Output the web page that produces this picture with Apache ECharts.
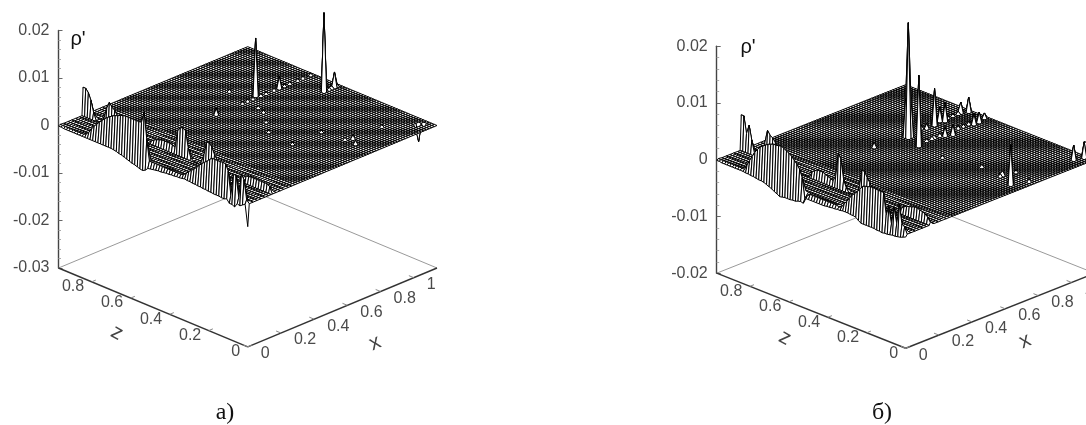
<!DOCTYPE html>
<html><head><meta charset="utf-8">
<style>html,body{margin:0;padding:0;background:#fff;overflow:hidden}#c{width:1086px;height:425px;filter:blur(0.5px)}</style>
<script src="https://cdn.jsdelivr.net/npm/echarts@6/dist/echarts.min.js"></script>
</head><body><div id="c"></div>
<script>
// All profile values are rho' in units of 1e-4, one per z-station (z falling from z max to 0).
const RHO_UNIT = 1e-4;
const xMax = 1.14, zMax = 0.97;
const xTickValues = [0, 0.2, 0.4, 0.6, 0.8, 1];
const zTickValues = [0, 0.2, 0.4, 0.6, 0.8];
const rhoTicksA = [-0.03, -0.02, -0.01, 0, 0.01, 0.02];
const rhoTicksB = [-0.02, -0.01, 0, 0.01, 0.02];
// grid rows across x (fraction of x max) near the wall; the regular flat mesh follows
const wallRows = [0, 0.008, 0.028, 0.05, 0.07, 0.09, 0.11, 0.124, 0.13];
const shelfRows = [0.15, 0.172, 0.19, 0.215, 0.232];

// ---- panel a ----
const edgeA = [-1,-1,-2,-2,-2,-2,-2,-2,-2,-2,-2,-2,-2,-2,-2,-2,-2,-2,-2,-2,-2,-3,-4,-6,-7,-9,-11,-13,-15,-16,-18,-20,-21,-18,-12,-11,-10,-9,-8,-8,-7,-6,-6,-5,-5,-4,-4,-3,-2,-3,-3,-4,-4,-5,-5,-6,-6,-7,-7,-8,-8,-8,-9,-9,-7,-14,-14,-17,-8,-10,-6,-2,-47];
const ridgeA = [1,1,1,1,1,1,1,1,1,1,4,10,19,27,34,40,46,52,57,61,65,68,70,73,75,76,76,76,76,76,76,77,100,46,2,2,2,2,2,2,2,2,2,2,2,2,2,4,8,15,19,25,30,37,43,48,53,59,63,63,63,63,64,63,50,2,48,48,4,55,46,6,0];
const backA = [59,59,52,38,15,0,0,0,13,36,50,42,38,29,17,8,0,0,0,0,0,0,0,0,0,0,6,10,13,15,17,17,17,17,16,13,50,59,61,57,23,4,0,0,0,6,23,52,52,46,32,23,10,4,0,0,0,0,0,0,6,10,15,16,17,17,17,17,17,17,17,13,0];
const spikeXA = [0.806,1.045,1.104,0.93,0.559,0.786,0.76,1.094,1.07,1.11,0.71,0.74,0.77,0.83,0.86,0.90,0.97,1.00,1.04,1.08,1.12,1.05,1.08,1.10,1.12,0.736,0.72,0.758,0.746,0.76,0.593,0.643,0.97,0.57];
const spikeZA = [0.640,0.498,0.497,0.632,0.63,0.129,0.091,0.058,0.058,0.045,0.63,0.63,0.63,0.63,0.63,0.63,0.63,0.63,0.63,0.63,0.63,0.5,0.5,0.5,0.5,0.564,0.527,0.742,0.25,0.148,0.392,0.46,0.132,0.252];
const spikeVA = [122,166,32,25,13,8,8,-36,-10,-12,4,5,4,5,4,5,4,5,4,5,4,5,4,5,4,5,5,5,4,5,4,4,4,4];

// ---- panel b ----
const edgeB = [-1,-1,-2,-2,-2,-2,-2,-2,-2,-2,-2,-3,-3,-4,-4,-5,-6,-6,-7,-9,-11,-13,-16,-18,-21,-20,-19,-19,-19,-18,-18,-16,-15,-16,-6,-6,-6,-6,-6,-6,-6,-6,-5,-5,-4,-4,-3,-3,-2,-2,-2,-3,-3,-4,-8,-11,-11,-11,-11,-11,-11,-12,-12,-13,-12,-12,-11,-10,-10,-9,-8,-6,-4];
const ridgeB = [1,1,1,1,1,1,1,1,1,1,0,10,20,29,38,45,51,54,58,61,63,65,65,66,67,65,62,60,56,51,46,39,26,-9,-2,2,2,2,2,2,2,2,2,2,2,2,0,2,9,16,23,30,35,40,46,53,55,56,58,58,58,57,57,57,19,36,7,39,11,47,14,11,0];
const backB = [62,62,33,49,25,4,0,0,0,30,53,46,43,37,29,0,0,0,0,0,0,0,0,0,0,0,0,11,15,18,18,18,16,14,12,10,21,62,53,19,7,0,0,0,0,18,49,48,39,32,21,9,0,0,0,0,0,0,0,0,4,9,14,16,18,19,21,21,19,18,16,12,5];
const spikeXB = [0.74,0.707,0.92,0.966,0.983,0.878,0.9,1.10,1.12,1.045,1.083,1.13,0.704,0.57,0.878,0.737,1.083,1.117,1.134,0.77,0.80,0.83,0.86,0.94,0.97,1.0,1.03,1.06,0.85,0.89,1.02,1.05,1.08,0.726,0.78,0.741,0.80,0.69,0.756,0.74];
const spikeZB = [0.625,0.54,0.638,0.64,0.629,0.534,0.528,0.642,0.638,0.533,0.54,0.553,0.048,0.64,0.637,0.136,0.051,0.045,0.039,0.547,0.547,0.547,0.547,0.547,0.547,0.547,0.547,0.547,0.64,0.64,0.64,0.64,0.64,0.133,0.023,0.249,0.12,0.4,0.625,0.638];
const spikeVB = [203,125,65,25,33,16,18,19,26,18,18,9,71,9,9,8,26,28,25,4,5,4,5,4,5,4,5,4,5,4,5,4,5,5,5,5,4,4,70,70];

const COLS = 72;
const rowFractions = wallRows.concat(shelfRows);
for (let f = 0.25; f <= 1.0001; f += 1 / COLS) rowFractions.push(Math.min(f, 1));
const ROWS = rowFractions.length;
const BACK_ROW = wallRows.length - 1;

function buildSurface(edge, ridge, back, sx, sz, sv) {
  const g = [];
  for (let r = 0; r < ROWS; r++) g.push(new Array(COLS + 1).fill(0));
  for (let i = 0; i <= COLS; i++) {
    g[0][i] = edge[i] * RHO_UNIT; g[1][i] = ridge[i] * RHO_UNIT; g[BACK_ROW][i] = back[i] * RHO_UNIT;
  }
  sx.forEach((x, k) => {
    const xf = x / xMax; let r = 0, best = 9;
    rowFractions.forEach((f, n) => { const d = Math.abs(f - xf); if (d < best) { best = d; r = n; } });
    const i = Math.round((1 - sz[k] / zMax) * COLS);
    const v = sv[k] * RHO_UNIT;
    if (Math.abs(v) > Math.abs(g[r][i])) g[r][i] = v;
  });
  return g;
}

function panelSeries(idx, surface, slope, rhoMin) {
  // oblique projection of (x fraction, z fraction, rho) on the panel's own two axes
  const proj = (xf, zf, rho) => [xf - zf, rho - slope + slope * (xf + zf)];
  const cells = [];
  for (let r = 0; r < ROWS - 1; r++) for (let i = 0; i < COLS; i++) cells.push([r, i]);
  cells.sort((a, b) => (rowFractions[b[0]] + (1 - b[1] / COLS)) - (rowFractions[a[0]] + (1 - a[1] / COLS)));

  const axes = {
    type: 'custom', coordinateSystem: 'cartesian2d', xAxisIndex: idx, yAxisIndex: idx,
    silent: true, animation: false, data: [[0, 0]], encode: { x: 0, y: 1 }, z: 1,
    renderItem(p, api) {
      const pt = (x, z) => api.coord(proj(x / xMax, z / zMax, rhoMin));
      const line = (a, b, color, w) => ({ type: 'line', shape: { x1: a[0], y1: a[1], x2: b[0], y2: b[1] }, style: { stroke: color, lineWidth: w } });
      const text = (s, q, dx, dy, align) => ({ type: 'text', style: { text: s, x: q[0] + dx, y: q[1] + dy, fill: '#4a4a4a', font: '16px "Liberation Sans"', textAlign: align, textVerticalAlign: 'middle' } });
      const kids = [
        line(pt(xMax, 0), pt(xMax, zMax), '#9a9a9a', 1),
        line(pt(0, zMax), pt(xMax, zMax), '#9a9a9a', 1),
        line(pt(0, 0), pt(xMax, 0), '#333', 1.4),
        line(pt(0, 0), pt(0, zMax), '#333', 1.4)
      ];
      xTickValues.forEach(t => {
        kids.push(line(pt(t, 0), pt(t, 0.025), '#888', 1));
        kids.push(text(String(t), pt(t, 0), 13, 7, 'left'));
      });
      zTickValues.forEach(t => {
        kids.push(line(pt(0, t), pt(0.025, t), '#888', 1));
        kids.push(text(String(t), pt(0, t), -7.5, 5, 'right'));
      });
      return { type: 'group', children: kids };
    }
  };
  const mesh = {
    type: 'custom', coordinateSystem: 'cartesian2d', xAxisIndex: idx, yAxisIndex: idx,
    silent: true, animation: false, progressive: 0, data: cells, encode: { x: 0, y: 1 }, z: 2,
    renderItem(p, api) {
      const r = api.value(0), i = api.value(1);
      const corner = (rr, ii) => api.coord(proj(rowFractions[rr], 1 - ii / COLS, surface[rr][ii]));
      return { type: 'polygon', shape: { points: [corner(r, i), corner(r + 1, i), corner(r + 1, i + 1), corner(r, i + 1)] },
        style: { fill: '#ffffff', stroke: '#000', lineWidth: 1.0 } };
    }
  };
  return [axes, mesh];
}

function yAxisOf(idx, min, max) {
  return { type: 'value', gridIndex: idx, min, max, interval: 0.01, position: 'left', splitNumber: 5,
    axisLine: { show: true, onZero: false, lineStyle: { color: '#444', width: 1.4 } },
    axisTick: { show: true, inside: true, length: 4, lineStyle: { color: '#666' } },
    minorTick: { show: true, splitNumber: 5, length: 2.5, lineStyle: { color: '#aaa' } },
    splitLine: { show: false },
    axisLabel: { margin: 9, color: '#4a4a4a', fontFamily: 'Liberation Sans', fontSize: 16, padding: [3, 0, 0, 0],
      formatter: v => Math.abs(v) < 1e-9 ? '0' : v.toFixed(2) } };
}
const hiddenX = idx => ({ type: 'value', gridIndex: idx, min: -1, max: 1, show: false });

function note(s, x, y, o) {
  return Object.assign({ type: 'text', x, y, silent: true, z: 10,
    style: Object.assign({ text: s, fill: '#444', font: '21px "Liberation Sans"', textAlign: 'center', textVerticalAlign: 'middle' }, o && o.style) }, o && o.el);
}

const surfA = buildSurface(edgeA, ridgeA, backA, spikeXA, spikeZA, spikeVA);
const surfB = buildSurface(edgeB, ridgeB, backB, spikeXB, spikeZB, spikeVB);

const chart = echarts.init(document.getElementById('c'), null, { renderer: 'canvas' });
chart.setOption({
  animation: false,
  backgroundColor: '#fff',
  grid: [
    { left: 58.5, top: 30.5, width: 378.5, height: 237.5, outerBoundsMode: 'none' },
    { left: 716.7, top: 46.3, width: 378, height: 226.9, outerBoundsMode: 'none' }
  ],
  xAxis: [hiddenX(0), hiddenX(1)],
  yAxis: [yAxisOf(0, rhoTicksA[0], rhoTicksA[5]), yAxisOf(1, rhoTicksB[0], rhoTicksB[4])],
  series: [...panelSeries(0, surfA, 79 / 4760, -0.03), ...panelSeries(1, surfB, 75 / 5670, -0.02)],
  graphic: [
    note("ρ'", 78, 39, { style: { fill: '#111', font: '20px "Liberation Sans"' } }),
    note("ρ'", 748, 47, { style: { fill: '#111', font: '20px "Liberation Sans"' } }),
    note('z', 117, 333, { el: { rotation: -0.5 } }),
    note('x', 375, 343, { el: { rotation: 0.4 } }),
    note('z', 785, 338, { el: { rotation: -0.5 } }),
    note('x', 1025, 341, { el: { rotation: 0.4 } }),
    note('a)', 225, 413, { style: { fill: '#111', font: '24px "Liberation Serif"' } }),
    note('б)', 882, 413, { style: { fill: '#111', font: '24px "Liberation Serif"' } })
  ]
});
</script></body></html>
